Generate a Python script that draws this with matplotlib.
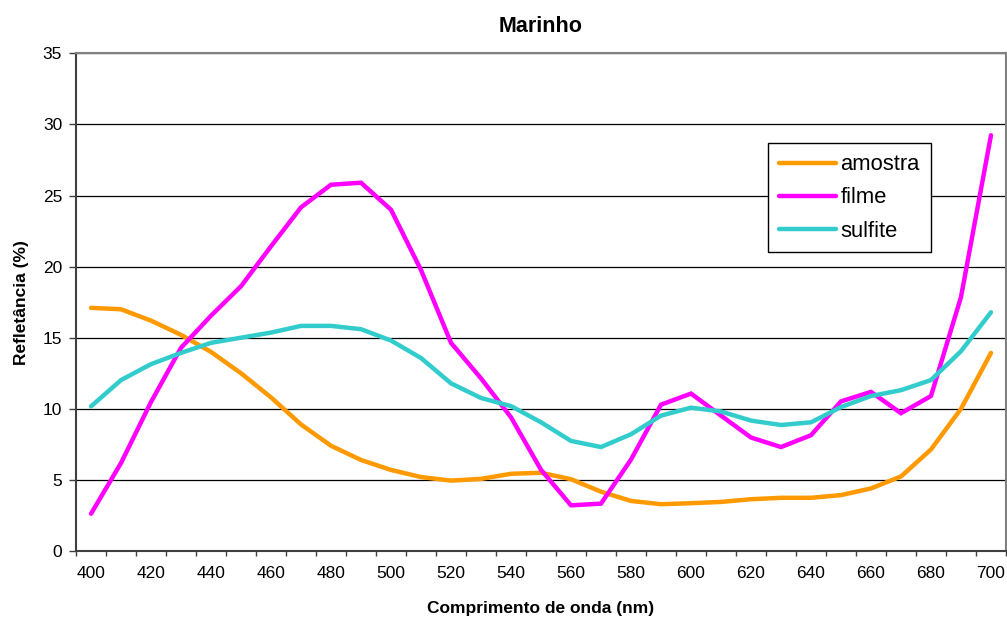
import numpy as np
import matplotlib.pyplot as plt

plt.rcParams['font.family'] = ['Liberation Sans', 'DejaVu Sans']

# dados
comprimento = list(range(400, 701, 10))
amostra = [17.1, 17.0, 16.2, 15.2, 14.0, 12.5, 10.8, 8.9, 7.4, 6.4, 5.7,
           5.2, 4.95, 5.07, 5.43, 5.5, 5.05, 4.17, 3.52, 3.29, 3.36,
           3.45, 3.64, 3.74, 3.74, 3.93, 4.4, 5.24, 7.14, 10.0, 13.93]
filme = [2.62, 6.19, 10.48, 14.29, 16.55, 18.62, 21.43, 24.17, 25.76, 25.9, 24.0,
         19.76, 14.64, 12.14, 9.4, 5.71, 3.21, 3.33, 6.43, 10.29, 11.07,
         9.52, 7.98, 7.31, 8.14, 10.52, 11.19, 9.69, 10.9, 17.86, 29.24]
sulfite = [10.17, 12.02, 13.14, 13.93, 14.64, 15.0, 15.36, 15.83, 15.83, 15.6, 14.8,
           13.57, 11.79, 10.76, 10.19, 9.05, 7.74, 7.31, 8.21, 9.52, 10.08,
           9.81, 9.17, 8.86, 9.05, 10.12, 10.9, 11.31, 12.02, 14.05, 16.79]

series = [('amostra', amostra, '#FF9900'),
          ('filme', filme, '#FF00FF'),
          ('sulfite', sulfite, '#33CCCC')]

fig = plt.figure(figsize=(10.07, 6.23), dpi=100)
ax = fig.add_axes([0.0755, 0.1156, 0.9235, 0.7988])

x = np.arange(len(comprimento))
for nome, vals, cor in series:
    ax.plot(x, vals, color=cor, linewidth=3.2, label=nome, solid_capstyle='round',
            solid_joinstyle='miter')

# eixos estilo Excel (categorias)
ax.set_xlim(-0.5, len(comprimento) - 0.5)
ax.set_ylim(0, 35)
ax.set_yticks(np.arange(0, 36, 5))
ax.set_xticks(x[::2])
ax.set_xticklabels([str(c) for c in comprimento[::2]], fontsize=12.5)
ax.set_xticks(np.arange(-0.5, len(comprimento), 1), minor=True)
ax.tick_params(axis='x', which='major', length=0, pad=11)
ax.tick_params(axis='x', which='minor', length=3.8, direction='out', width=1, color='#404040')
ax.tick_params(axis='y', length=5, direction='out', width=1, color='#404040', labelsize=12.5, pad=5)

ax.yaxis.grid(True, color='black', linewidth=0.9)
ax.set_axisbelow(True)

for s in ['top', 'right']:
    ax.spines[s].set_color('#808080')
    ax.spines[s].set_linewidth(1.5)
for s in ['left', 'bottom']:
    ax.spines[s].set_color('#404040')
    ax.spines[s].set_linewidth(1.5)

ax.set_title('Marinho', fontsize=15.5, fontweight='bold', pad=15)
ax.set_xlabel('Comprimento de onda (nm)', fontsize=12.5, fontweight='bold', labelpad=14)
ax.set_ylabel('Refletância (%)', fontsize=12.5, fontweight='bold', labelpad=10)

leg = ax.legend(loc='upper left', bbox_to_anchor=(0.744, 0.819), fontsize=15.8,
                frameon=True, fancybox=False, borderaxespad=0, handlelength=2.6,
                handletextpad=0.2, labelspacing=0.55, borderpad=0.5)
leg.get_frame().set_edgecolor('black')
leg.get_frame().set_linewidth(1.0)
leg.get_frame().set_alpha(1)

fig.savefig('out.png', dpi=100)
